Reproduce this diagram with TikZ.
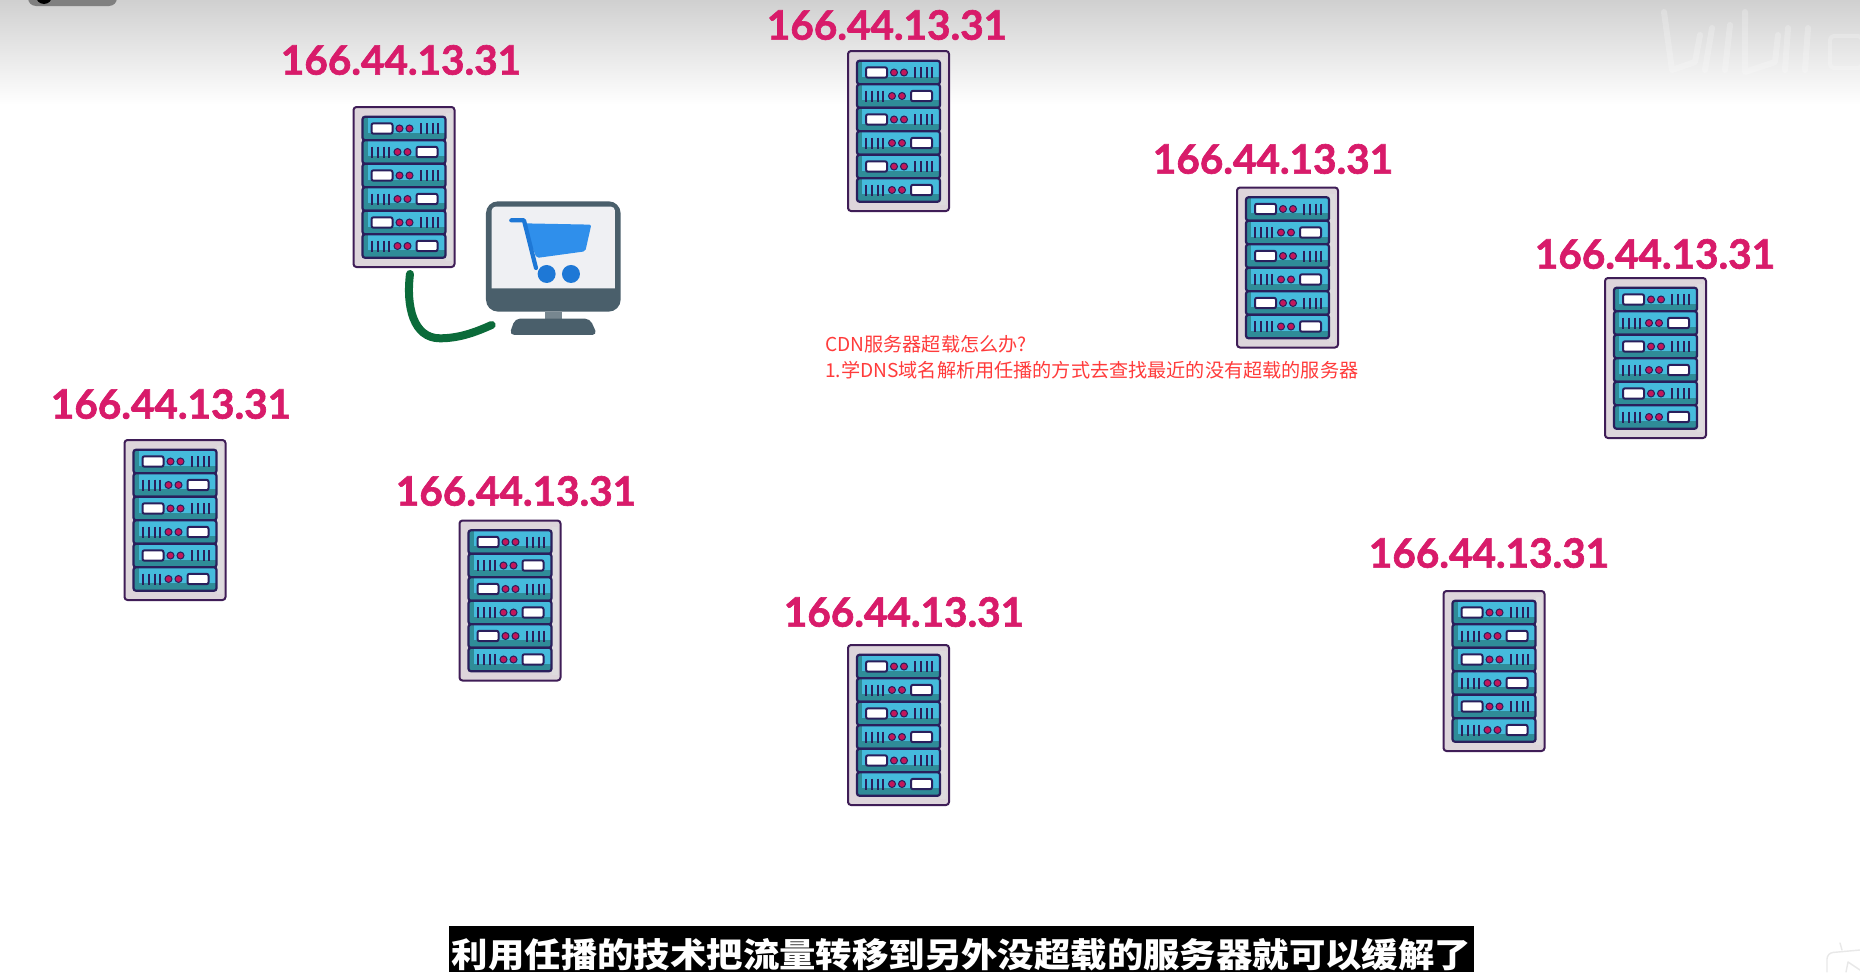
\documentclass[tikz,border=0pt]{standalone}
\usepackage{fontspec}
\setmainfont{Lato}
\newfontfamily\cjk{Noto Sans CJK SC}
\newfontfamily\iplabelfont[FakeBold=1.6]{Lato Bold}
\definecolor{ipred}{HTML}{D81B6A}
\definecolor{rackline}{HTML}{3F1D57}
\definecolor{rackfill}{HTML}{DDD5DB}
\definecolor{unitline}{HTML}{2A1F5C}
\definecolor{unitteal}{HTML}{2F8C98}
\definecolor{unitcyan}{HTML}{45BBDC}
\definecolor{dotpink}{HTML}{C2185B}
\definecolor{monitor}{HTML}{4A5F6B}
\definecolor{monscreen}{HTML}{EFF0F3}
\definecolor{cartlight}{HTML}{2F8FEB}
\definecolor{cartdark}{HTML}{1E78D6}
\definecolor{cable}{HTML}{0B6B3A}
\definecolor{redtext}{HTML}{FF3B3B}
\definecolor{topgray}{HTML}{D0D0D0}
\tikzset{
  iplabel/.style={text=ipred,font=\iplabelfont\fontsize{40.5}{40.5}\selectfont,inner sep=0pt,anchor=center},
  note/.style={text=redtext,font=\cjk\fontsize{19.15}{19.15}\selectfont,inner sep=0pt,anchor=west},
  rack/.pic={
    \fill[rackfill,rounded corners=3pt] (0,0) rectangle (101,160);
    \fill[black!12,opacity=.6] (92,6) rectangle (98,154);
    \draw[rackline,line width=2pt,rounded corners=3pt] (0,0) rectangle (101,160);
    \foreach \i/\yc in {1/21.5,2/45,3/68.5,4/92,5/115.5,6/139}{
      \fill[unitteal,rounded corners=2pt] (9,\yc-11.75) rectangle (92,\yc+11.75);
      \fill[unitcyan] (14,\yc-11) rectangle (91,\yc+4);
      \draw[unitline,line width=2.2pt,rounded corners=2.5pt] (9,\yc-11.75) rectangle (92,\yc+11.75);
    }
    \foreach \yc in {21.5,68.5,115.5}{
      \draw[unitline,fill=white,line width=2pt,rounded corners=2pt] (18,\yc-5.2) rectangle (39,\yc+5.2);
      \foreach \dx in {46,56}{\draw[unitline,fill=dotpink,line width=1pt] (\dx,\yc) circle (3.5);}
      \foreach \dx in {67,73,79,84}{\draw[unitline,line width=2pt] (\dx,\yc-5.5) -- (\dx,\yc+5.5);}
    }
    \foreach \yc in {45,92,139}{
      \draw[unitline,fill=white,line width=2pt,rounded corners=2pt] (63,\yc-5.2) rectangle (84,\yc+5.2);
      \foreach \dx in {44,54}{\draw[unitline,fill=dotpink,line width=1pt] (\dx,\yc) circle (3.5);}
      \foreach \dx in {18,24,30,35}{\draw[unitline,line width=2pt] (\dx,\yc-5.5) -- (\dx,\yc+5.5);}
    }
  }
}
\begin{document}
\begin{tikzpicture}[x=1pt,y=-1pt]
\useasboundingbox (0,0) rectangle (1860,972);
\fill[white] (0,0) rectangle (1860,972);
% top fade
\shade[top color=topgray,bottom color=white] (0,0) rectangle (1860,105);
% top-left pill
\begin{scope}
\clip (0,0) rectangle (1860,6);
\fill[black!50,rounded corners=8pt] (28,-20) rectangle (117,6);
\fill[black] (44,-4) circle (8);
\end{scope}
% watermark
\begin{scope}[white,opacity=.22,line width=6pt,line cap=round,line join=round]
\draw (1664,12) -- (1672,70) -- (1695,62) -- (1700,35);
\draw (1705,70) -- (1712,28);
\draw (1725,70) -- (1730,25);
\draw (1745,12) -- (1745,72) -- (1775,62) -- (1778,35);
\draw (1785,70) -- (1788,28);
\draw (1805,70) -- (1808,28);
\draw[rounded corners=4pt,line width=4pt] (1830,36) rectangle (1862,68);
\end{scope}
% bottom-right corner mark
\begin{scope}[black!9,line width=1.4pt,line cap=round,line join=round]
\draw[rounded corners=6pt] (1827,972) -- (1827,953) -- (1860,950);
\draw (1842,950) -- (1840,943);
\draw (1846,972) -- (1848,962) -- (1860,970);
\end{scope}
% IP labels
\node[iplabel] (ip1) at (401,60) {166.44.13.31};
\node[iplabel] (ip2) at (887,25) {166.44.13.31};
\node[iplabel] (ip3) at (1273,159) {166.44.13.31};
\node[iplabel] (ip4) at (1655,254) {166.44.13.31};
\node[iplabel] (ip5) at (171,404) {166.44.13.31};
\node[iplabel] (ip6) at (516,491) {166.44.13.31};
\node[iplabel] (ip7) at (904,612) {166.44.13.31};
\node[iplabel] (ip8) at (1489,553) {166.44.13.31};
% racks
\pic at (353.5,107) {rack};
\pic at (848,51) {rack};
\pic at (1237,187.5) {rack};
\pic at (1605,278) {rack};
\pic at (124.5,440) {rack};
\pic at (459.5,520.5) {rack};
\pic at (848,645) {rack};
\pic at (1443.5,591) {rack};
% monitor with cart, coordinates as in a 3x view
\begin{scope}[shift={(270,30)},x=.3333pt,y=-.3333pt]
\fill[monitor,rounded corners=12pt] (648,514) rectangle (1052,845);
\fill[monscreen,rounded corners=4pt] (665,775) -- (665,530) -- (1035,530) -- (1035,775);
\fill[monscreen] (665,760) rectangle (1035,775);
\fill[monitor!75] (825,845) rectangle (875,868);
\fill[monitor,rounded corners=5pt] (718,915) -- (735,866) -- (960,866) -- (982,915) -- cycle;
\fill[cartlight,rounded corners=2pt] (758,580) -- (964,584) -- (946,664) -- (800,684) -- cycle;
\draw[cartdark,line width=4.2pt,line cap=round,line join=round] (724,571) -- (762,571) -- (798,714);
\fill[cartdark] (830,732) circle (27);
\fill[cartdark] (903,732) circle (27);
\coordinate (cableA) at (420,732);
\coordinate (cableB) at (665,885);
\draw[cable,line width=8pt,line cap=round] (cableA) .. controls (408,830) and (430,925) .. (510,925) .. controls (570,925) and (620,905) .. (cableB);
\end{scope}
% red note
\node[note] (n1) at (825,344) {CDN服务器超载怎么办?};
\node[note] (n2) at (825,370) {1.学DNS域名解析用任播的方式去查找最近的没有超载的服务器};
% caption
\fill[black] (449,926) rectangle (1474,972);
\node[inner sep=0pt,text=white,font=\cjk\bfseries\fontsize{36.4}{36.4}\selectfont,yscale=.93] (cap) at (961.5,955) {利用任播的技术把流量转移到另外没超载的服务器就可以缓解了};
\end{tikzpicture}
\end{document}
